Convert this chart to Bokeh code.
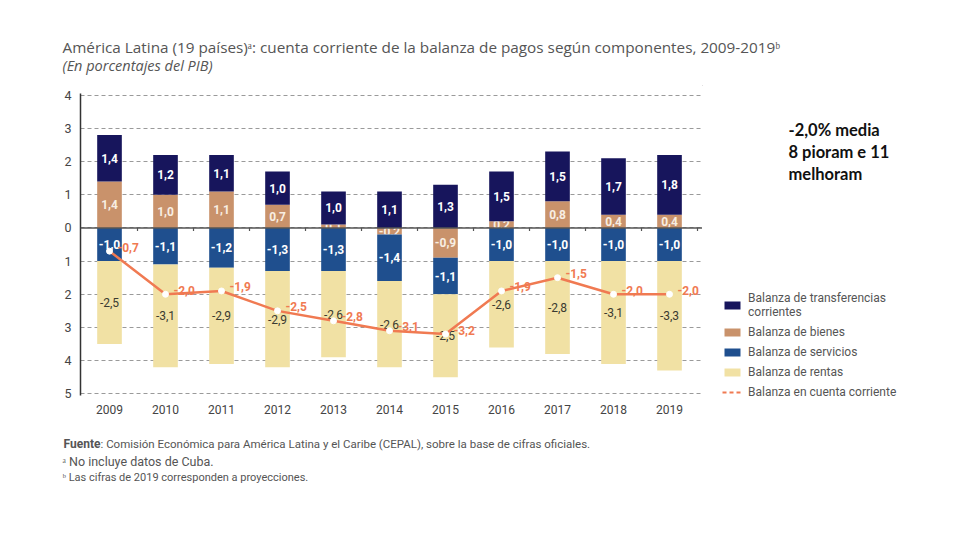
from bokeh.plotting import figure
from bokeh.layouts import column, row
from bokeh.models import Range1d, FixedTicker, Span, Legend, LegendItem, ColumnDataSource
from bokeh.core.properties import value
from bokeh.embed import file_html
from bokeh.resources import INLINE

# ---------------- data ----------------
years = [2009, 2010, 2011, 2012, 2013, 2014, 2015, 2016, 2017, 2018, 2019]
transferencias = [1.4, 1.2, 1.1, 1.0, 1.0, 1.1, 1.3, 1.5, 1.5, 1.7, 1.8]
bienes = [1.4, 1.0, 1.1, 0.7, 0.1, -0.2, -0.9, 0.2, 0.8, 0.4, 0.4]
servicios = [-1.0, -1.1, -1.2, -1.3, -1.3, -1.4, -1.1, -1.0, -1.0, -1.0, -1.0]
rentas = [-2.5, -3.1, -2.9, -2.9, -2.6, -2.6, -2.5, -2.6, -2.8, -3.1, -3.3]
cuenta_corriente = [-0.7, -2.0, -1.9, -2.5, -2.8, -3.1, -3.2, -1.9, -1.5, -2.0, -2.0]
y_ticks = [-5, -4, -3, -2, -1, 0, 1, 2, 3, 4]

legend_labels = ["Balanza de transferencias\ncorrientes", "Balanza de bienes",
                 "Balanza de servicios", "Balanza de rentas", "Balanza en cuenta corriente"]

# ---------------- style ----------------
C_TRANS = "#17155c"
C_BIEN = "#c9926b"
C_SERV = "#1f4f8e"
C_RENT = "#f1e1a4"
C_LINE = "#f07a52"
NARROW = "Roboto"
TOTAL_W, TOTAL_H = 960, 540
TOP_H = 85           # title strip
BT, FH, BB = 8, 302, 40
MAIN_H = BT + FH + BB
BOT_H = TOTAL_H - TOP_H - MAIN_H
MAIN_W = 702
BL = 80
FW = MAIN_W - BL
XR = (2008.482, 2008.482 + FW / 56.0)
YR = (-5.05, 4.05)


def fmt(v):
    return f"{v:.1f}".replace(".", ",")


def blank(w, h, x0, y0):
    f = figure(width=w, height=h, output_backend="svg", toolbar_location=None,
               x_range=Range1d(x0, x0 + w), y_range=Range1d(y0 + h, y0),
               x_axis_type=None, y_axis_type=None,
               min_border=0, min_border_left=0, min_border_right=0,
               min_border_top=0, min_border_bottom=0)
    f.outline_line_color = None
    f.grid.visible = False
    f.frame_align = False
    return f


def put(f, x, y, text, font, size, color="#555555", style="normal", align="left"):
    # x, y: page pixels
    f.text(x=[x], y=[y], text=[text], text_font=value(font), text_font_size=size,
           text_color=color, text_font_style=style, text_align=align, text_baseline="middle")


# ---------------- main chart ----------------
p = figure(width=MAIN_W, height=MAIN_H, output_backend="svg", toolbar_location=None,
           x_range=Range1d(*XR), y_range=Range1d(*YR),
           min_border_left=BL, min_border_right=0, min_border_top=BT, min_border_bottom=BB)
p.outline_line_color = None
p.frame_align = False

p.xgrid.visible = False
p.ygrid.ticker = FixedTicker(ticks=y_ticks)
p.ygrid.grid_line_color = "#9a9a9a"
p.ygrid.grid_line_dash = "4 3"
p.ygrid.grid_line_width = 1

p.yaxis.ticker = FixedTicker(ticks=y_ticks)
p.yaxis.major_label_overrides = {t: str(abs(t)) for t in y_ticks}
p.yaxis.axis_line_color = "#333333"
p.yaxis.axis_line_width = 1.5
p.yaxis.major_tick_line_color = None
p.yaxis.minor_tick_line_color = None
p.yaxis.major_label_standoff = 3
p.yaxis.major_label_text_font = NARROW
p.yaxis.major_label_text_font_size = "12.5px"
p.yaxis.major_label_text_color = "#444444"

p.xaxis.ticker = FixedTicker(ticks=years)
p.xaxis.axis_line_color = None
p.xaxis.major_tick_line_color = None
p.xaxis.minor_tick_line_color = None
p.xaxis.major_label_standoff = 3
p.xaxis.major_label_text_font = NARROW
p.xaxis.major_label_text_font_size = "12px"
p.xaxis.major_label_text_color = "#444444"

order = [bienes, transferencias, servicios, rentas]
colors = [C_BIEN, C_TRANS, C_SERV, C_RENT]
txt_colors = ["#f8eee2", "white", "white", "#3a3a30"]
pos = [0.0] * len(years)
neg = [0.0] * len(years)
for vals, col, tcol in zip(order, colors, txt_colors):
    tops, bots = [], []
    for i, v in enumerate(vals):
        if v >= 0:
            b, t = pos[i], pos[i] + v
            pos[i] = t
        else:
            t, b = neg[i], neg[i] + v
            neg[i] = b
        tops.append(t)
        bots.append(b)
    src = ColumnDataSource(dict(x=years, top=tops, bottom=bots,
                                mid=[(a + b) / 2 for a, b in zip(tops, bots)],
                                lab=[fmt(v) for v in vals]))
    p.vbar(x="x", width=0.44, top="top", bottom="bottom", source=src,
           fill_color=col, line_color=None)
    p.text(x="x", y="mid", text="lab", source=src, text_align="center",
           text_baseline="middle", text_color=tcol, text_font=value(NARROW),
           text_font_size="12px", text_font_style="normal" if tcol == "#3a3a30" else "bold")

p.add_layout(Span(location=0, dimension="width", line_color="#555555", line_width=1.5))
mids = [y + 0.5 for y in years]
p.segment(x0=mids, y0=[0] * len(mids), x1=mids, y1=[-0.09] * len(mids),
          line_color="#555555", line_width=1.2)

lsrc = ColumnDataSource(dict(x=years, y=cuenta_corriente, lab=[fmt(v) for v in cuenta_corriente]))
p.line(x="x", y="y", source=lsrc, line_color=C_LINE, line_width=2.5)
p.scatter(x="x", y="y", source=lsrc, size=6, fill_color="white", line_color="white")
p.text(x="x", y="y", text="lab", source=lsrc, x_offset=8, y_offset=-4,
       text_align="left", text_baseline="middle", text_color=C_LINE,
       text_font=value(NARROW), text_font_size="12px", text_font_style="bold")

# ---------------- title strip ----------------
top = blank(TOTAL_W, TOP_H, 0, 0)
put(top, 62, 46, "América Latina (19 países)ᵃ: cuenta corriente de la balanza de pagos según componentes, 2009-2019ᵇ",
    "Open Sans", "15.3px")
put(top, 62, 65, "(En porcentajes del PIB)", "Open Sans", "14.5px", style="italic")

# ---------------- right strip: note + legend ----------------
RW = TOTAL_W - MAIN_W
right = blank(RW, MAIN_H, MAIN_W, TOP_H)
put(right, 788, 129, "-2,0% media", "Lato", "16.5px", color="#111111", style="bold")
put(right, 788, 151, "8 pioram e 11", "Lato", "16.5px", color="#111111", style="bold")
put(right, 788, 173, "melhoram", "Lato", "16.5px", color="#111111", style="bold")

leg_r = []
for col in [C_TRANS, C_BIEN, C_SERV, C_RENT]:
    leg_r.append(right.vbar(x=[-100], top=[0], bottom=[-1], width=1, fill_color=col, line_color=None))
leg_r.append(right.line(x=[-100, -99], y=[0, 0], line_color=C_LINE, line_width=2, line_dash="4 3"))
legend = Legend(items=[LegendItem(label=l, renderers=[r]) for l, r in zip(legend_labels, leg_r)],
                location=(20, 36), orientation="vertical")
legend.border_line_color = None
legend.background_fill_alpha = 0
legend.label_text_font = NARROW
legend.label_text_font_size = "12px"
legend.label_text_color = "#555555"
legend.glyph_width = 20
legend.glyph_height = 10
legend.spacing = 6
legend.padding = 0
legend.margin = 0
legend.label_standoff = 6
right.add_layout(legend, "center")

# ---------------- footer strip ----------------
bot = blank(TOTAL_W, BOT_H, 0, TOP_H + MAIN_H)
put(bot, 63, 443, "Fuente", NARROW, "12px", style="bold")
put(bot, 100, 443, ": Comisión Económica para América Latina y el Caribe (CEPAL), sobre la base de cifras oficiales.",
    NARROW, "11.5px")
put(bot, 62, 461, "ᵃ No incluye datos de Cuba.", NARROW, "12.5px")
put(bot, 62, 477, "ᵇ Las cifras de 2019 corresponden a proyecciones.", NARROW, "11px")

layout = column(top, row(p, right), bot)
open("out.html", "w").write(file_html(layout, INLINE))
